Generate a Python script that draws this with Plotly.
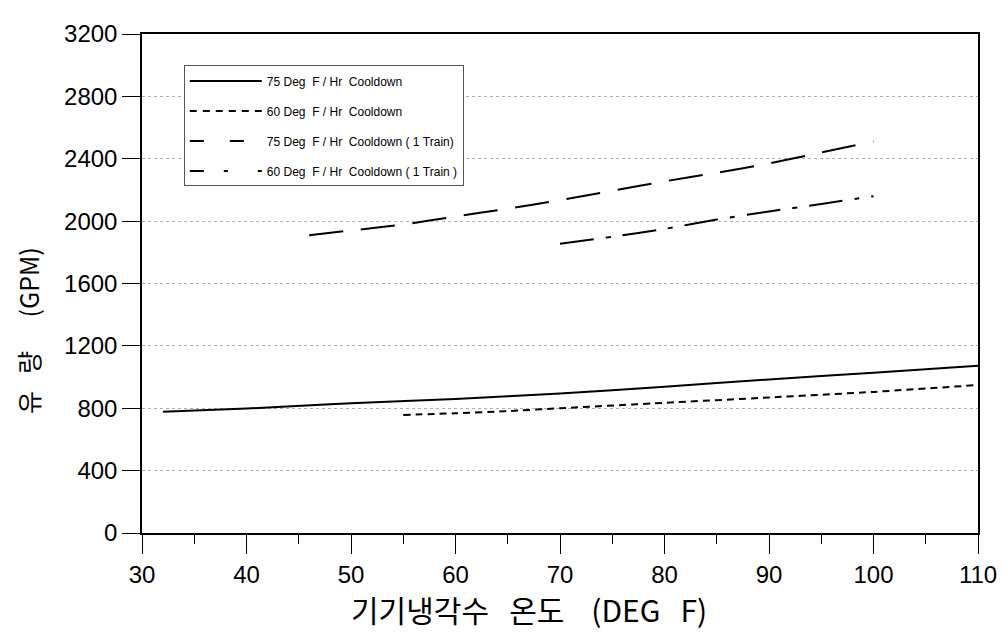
import plotly.graph_objects as go

# ---- data ----
x_75 = [32, 40, 48, 50, 60, 70, 80, 90, 100, 110]
y_75 = [777, 798, 825, 832, 860, 895, 938, 985, 1028, 1073]

x_60 = [55, 60, 65, 70, 80, 90, 100, 110]
y_60 = [757, 768, 782, 800, 835, 869, 905, 949]

x_75t = [46, 50, 55, 60, 65, 70, 75, 80, 85, 90, 95, 100]
y_75t = [1910, 1940, 1978, 2030, 2080, 2135, 2195, 2255, 2310, 2370, 2440, 2512]

x_60t = [70, 75, 80, 85, 90, 95, 100]
y_60t = [1855, 1900, 1950, 2010, 2062, 2110, 2160]

NB = "\u00a0"
names = [
    f"75{NB}Deg{NB}{NB}F{NB}/{NB}Hr{NB}{NB}Cooldown",
    f"60{NB}Deg{NB}{NB}F{NB}/{NB}Hr{NB}{NB}Cooldown",
    f"75{NB}Deg{NB}{NB}F{NB}/{NB}Hr{NB}{NB}Cooldown{NB}({NB}1{NB}Train)",
    f"60{NB}Deg{NB}{NB}F{NB}/{NB}Hr{NB}{NB}Cooldown{NB}({NB}1{NB}Train{NB})",
]
x_ticks = [30, 40, 50, 60, 70, 80, 90, 100, 110]
y_ticks = [0, 400, 800, 1200, 1600, 2000, 2400, 2800, 3200]
x_title = f"기기냉각수{NB}{NB}{NB}온도{NB}{NB}{NB}{NB}(DEG{NB}{NB}{NB}F)"
y_title = f"유{NB}{NB}{NB}량{NB}{NB}{NB}{NB}{NB}{NB}(GPM)"

fig = go.Figure()
series = [
    (x_75, y_75, "solid", "solid"),
    (x_60, y_60, "7px,5px", "7px,6px"),
    (x_75t, y_75t, "34px,18px", "14px,26px"),
    (x_60t, y_60t, "34px,12px,5px,12px", "14px,20px,4px,30px"),
]
for i, (xs, ys, dash, legdash) in enumerate(series):
    # the curve itself
    fig.add_trace(go.Scatter(
        x=xs, y=ys, mode="lines", showlegend=False,
        line=dict(color="black", width=2, dash=dash, shape="spline", smoothing=0.6),
    ))
    # legend entry (compact dash pattern like the original's key)
    fig.add_trace(go.Scatter(
        x=[None], y=[None], mode="lines", name=names[i], legendgroup=f"g{i}",
        line=dict(color="black", width=2, dash=legdash),
    ))

fig.update_layout(
    width=1006, height=639,
    margin=dict(l=134, r=36, t=15, b=114),
    paper_bgcolor="white", plot_bgcolor="white",
    font=dict(family="Liberation Sans, Arial, sans-serif", color="black"),
    showlegend=True,
    legend=dict(
        x=0.05, y=0.937, xanchor="left", yanchor="top",
        bgcolor="white", bordercolor="#555555", borderwidth=1,
        font=dict(size=12, family="Liberation Sans, Arial, sans-serif"),
        tracegroupgap=11, itemwidth=72,
    ),
)
fig.update_xaxes(
    range=[30, 110], tickvals=x_ticks, ticktext=[str(v) for v in x_ticks],
    ticks="outside", ticklen=19, tickwidth=1.2, tickcolor="black",
    tickfont=dict(size=24),
    showline=True, linecolor="black", linewidth=1.5, mirror=True,
    showgrid=False, zeroline=False,
    minor=dict(dtick=5, tick0=30, ticks="outside", ticklen=9, tickcolor="black", showgrid=False),
)
fig.update_yaxes(
    range=[0, 3200], tickvals=y_ticks, ticktext=[str(v) for v in y_ticks],
    ticks="outside", ticklen=18, tickwidth=1.2, tickcolor="black",
    tickfont=dict(size=24),
    showline=True, linecolor="black", linewidth=1.5, mirror=True,
    showgrid=True, gridcolor="#b0b0b0", griddash="dot", gridwidth=1,
    zeroline=False,
)
fig.add_annotation(
    text=x_title, xref="paper", yref="paper", x=0.463, y=0, yshift=-76,
    xanchor="center", yanchor="middle", showarrow=False,
    font=dict(size=30, family="Noto Sans CJK KR", color="black"),
)
fig.add_annotation(
    text=y_title, xref="paper", yref="paper", x=0, xshift=-114, y=0.405,
    xanchor="center", yanchor="middle", textangle=-90, showarrow=False,
    font=dict(size=25, family="Noto Sans CJK KR", color="black"),
)

fig.write_html("out.html")
